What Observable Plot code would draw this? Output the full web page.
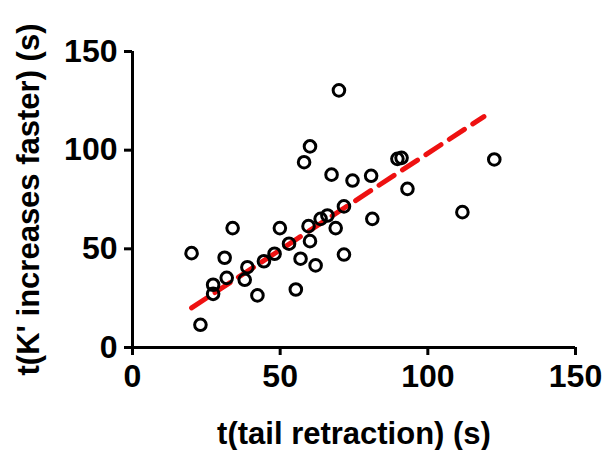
<!DOCTYPE html>
<html><head><meta charset="utf-8">
<script src="https://cdn.jsdelivr.net/npm/d3@7"></script>
<script src="https://cdn.jsdelivr.net/npm/@observablehq/plot@0.6"></script>
<style>
body{margin:0;background:#fff;}
svg{font-family:"Liberation Sans",Arial,sans-serif;}
g[aria-label="x-axis tick label"], g[aria-label="y-axis tick label"]{font-size:32px;font-weight:bold;}
g[aria-label="x-axis label"]{font-size:31px;font-weight:bold;}
g[aria-label="y-axis label"]{font-size:31px;font-weight:bold;}
g[aria-label="x-axis tick"] path, g[aria-label="y-axis tick"] path{stroke-width:3px;}
</style></head>
<body><div id="chart"></div>
<script>
const tailRetraction = [20.0,23.0,33.9,31.2,27.3,27.3,31.9,38.9,38.0,42.3,44.5,48.1,49.9,53.0,55.3,56.9,60.1,62.0,59.6,63.7,66.0,68.8,71.6,71.6,81.2,69.9,60.1,58.1,67.4,74.5,80.8,89.7,91.1,122.5,93.1,111.7];
const kIncreases   = [47.8,11.5,60.5,45.5,31.8,27.2,35.3,40.7,34.3,26.4,43.7,47.5,60.5,52.6,29.4,45.0,53.9,41.6,61.5,65.2,66.9,60.5,47.1,71.5,65.2,130.3,101.9,93.9,87.6,84.6,87.0,95.6,96.1,95.3,80.4,68.6];
const fitX = [20, 119];
const fitY = [20.1, 117];
const xTicks = [0,50,100,150];
const yTicks = [0,50,100,150];

const pts = tailRetraction.map((x,i)=>({x, y:kIncreases[i]}));
const fit = fitX.map((x,i)=>({x, y:fitY[i]}));

const chart = Plot.plot({
  width:605, height:450,
  marginLeft:132, marginRight:30, marginTop:51, marginBottom:103,
  x:{domain:[0,150]},
  y:{domain:[0,150]},
  marks:[
    Plot.axisX({ticks:xTicks, tickSize:8, tickPadding:9, label:"t(tail retraction) (s)", labelAnchor:"center", labelArrow:"none", labelOffset:96, color:"#000"}),
    Plot.axisY({ticks:yTicks, tickSize:8, tickPadding:7, label:"t(K' increases faster) (s)", labelAnchor:"center", labelArrow:"none", labelOffset:116, color:"#000"}),
    Plot.ruleY([0], {stroke:"#000", strokeWidth:3}),
    Plot.ruleX([0], {stroke:"#000", strokeWidth:3}),
    Plot.line(fit, {x:"x", y:"y", stroke:"#ee1111", strokeWidth:5, strokeDasharray:"18,10"}),
    Plot.dot(pts, {x:"x", y:"y", r:5.8, stroke:"#000", strokeWidth:3, fill:"none"})
  ]
});
document.getElementById("chart").appendChild(chart);
</script></body></html>
